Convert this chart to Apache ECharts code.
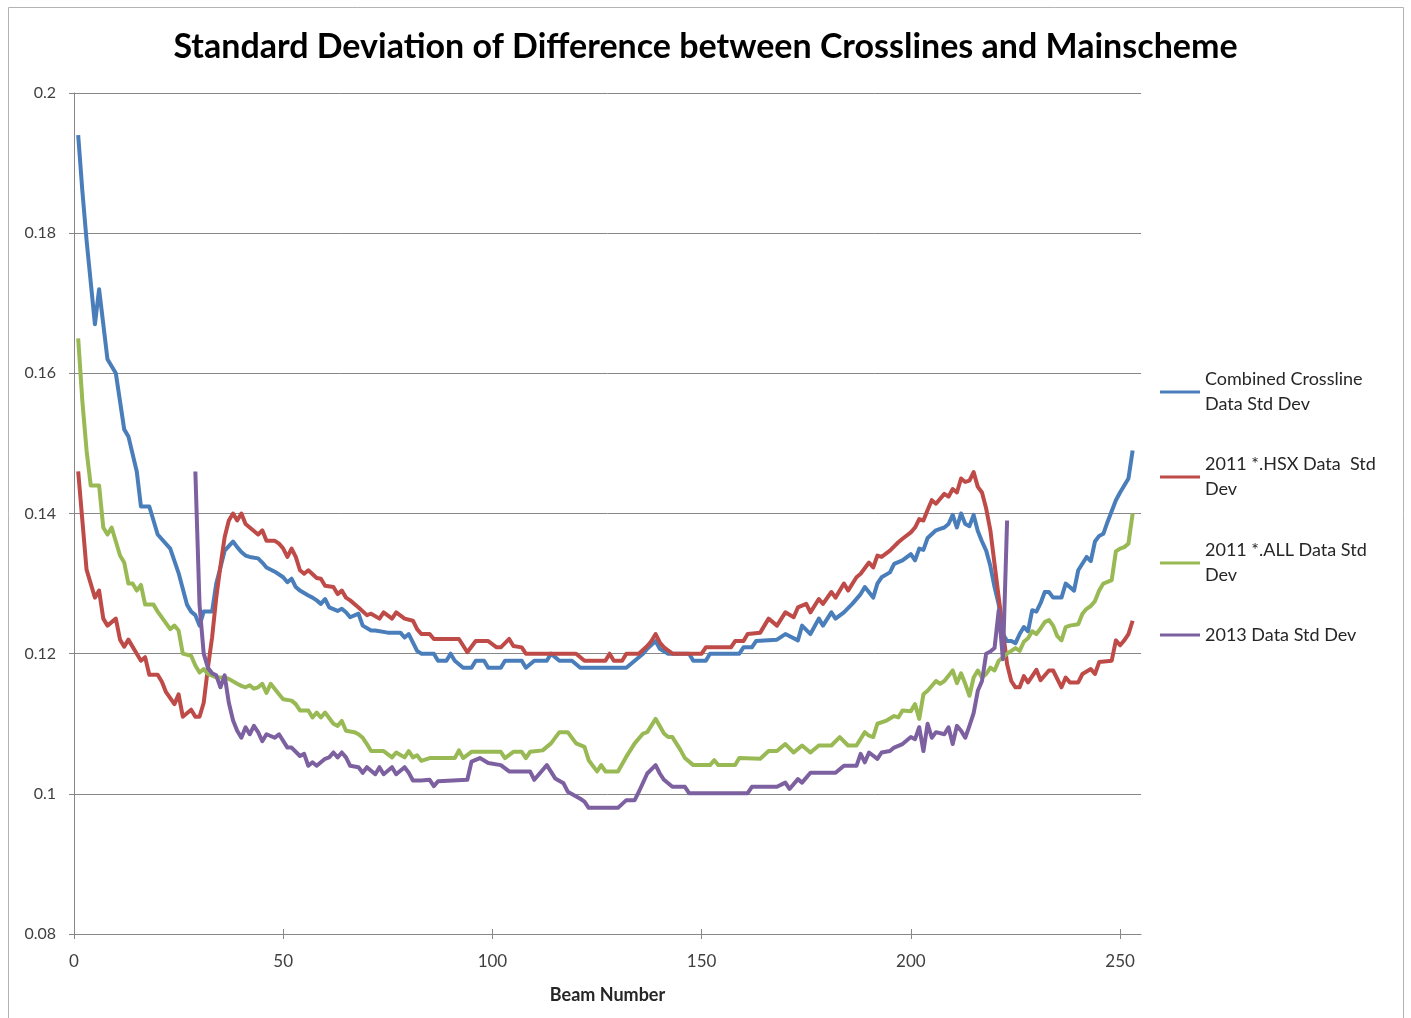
<!DOCTYPE html>
<html>
<head>
<meta charset="utf-8">
<title>Standard Deviation of Difference between Crosslines and Mainscheme</title>
<script src="https://cdn.jsdelivr.net/npm/echarts@6/dist/echarts.min.js"></script>
<style>
  html, body { margin: 0; padding: 0; background: #ffffff; }
  #chart { width: 1411px; height: 1018px; }
</style>
</head>
<body>
<div id="chart"></div>
<script>
// Standard deviation per beam, pairs of [beam number, std dev]
const combinedCrossline = [
  [1,0.194],[2,0.186],[3,0.179],[4,0.173],[5,0.167],[6,0.172],[8,0.162],[9,0.161],[10,0.160],[12,0.152],[13,0.151],[15,0.146],[16,0.141],[18,0.141],[20,0.137],[23,0.135],[25,0.1315],[27,0.127],[28,0.126],[29,0.1255],[30,0.124],[31,0.126],[33,0.126],[34,0.130],[35,0.1323],[36,0.1347],[38,0.136],[39,0.1352],[40,0.1345],[41,0.134],[42,0.1338],[44,0.1336],[45,0.133],[46,0.1323],[48,0.1317],[50,0.1309],[51,0.1302],[52,0.1307],[53,0.1295],[54,0.129],[56,0.1283],[57,0.128],[58,0.1276],[59,0.1271],[60,0.1278],[61,0.1266],[63,0.1261],[64,0.1264],[65,0.1259],[66,0.1252],[68,0.1257],[69,0.124],[71,0.1233],[72,0.1233],[75,0.123],[78,0.123],[79,0.1223],[80,0.1228],[82,0.1204],[83,0.120],[86,0.120],[87,0.119],[89,0.119],[90,0.120],[91,0.119],[93,0.118],[95,0.118],[96,0.119],[98,0.119],[99,0.118],[102,0.118],[103,0.119],[107,0.119],[108,0.118],[110,0.119],[113,0.119],[114,0.120],[116,0.119],[119,0.119],[121,0.118],[132,0.118],[134,0.119],[135,0.1195],[136,0.120],[137,0.1207],[139,0.1218],[140,0.1207],[142,0.120],[147,0.120],[148,0.119],[151,0.119],[152,0.120],[159,0.120],[160,0.1209],[162,0.1209],[163,0.1218],[168,0.122],[170,0.1228],[173,0.1219],[174,0.124],[176,0.1228],[178,0.125],[179,0.124],[181,0.1259],[182,0.125],[184,0.1259],[186,0.1271],[188,0.1285],[189,0.1295],[191,0.128],[192,0.130],[193,0.1309],[195,0.1316],[196,0.1328],[198,0.1333],[200,0.1342],[201,0.1333],[202,0.135],[203,0.1348],[204,0.1365],[206,0.1376],[207,0.1378],[208,0.138],[209,0.1385],[210,0.1398],[211,0.138],[212,0.140],[213,0.1385],[214,0.1382],[215,0.1398],[216,0.1375],[217,0.136],[218,0.1347],[219,0.1325],[220,0.1295],[221,0.127],[222,0.1228],[223,0.1218],[224,0.1218],[225,0.1215],[226,0.1228],[227,0.1238],[228,0.1232],[229,0.1262],[230,0.126],[231,0.1272],[232,0.1288],[233,0.1288],[234,0.128],[236,0.128],[237,0.130],[239,0.129],[240,0.1319],[242,0.1338],[243,0.1332],[244,0.136],[245,0.1368],[246,0.1371],[247,0.1388],[249,0.1419],[250,0.143],[251,0.144],[252,0.145],[253,0.149]
];

const hsx2011 = [
  [1,0.146],[2,0.139],[3,0.132],[4,0.130],[5,0.128],[6,0.129],[7,0.125],[8,0.124],[10,0.125],[11,0.122],[12,0.121],[13,0.122],[15,0.120],[16,0.119],[17,0.1195],[18,0.117],[20,0.117],[21,0.116],[22,0.1145],[24,0.1128],[25,0.1142],[26,0.111],[28,0.112],[29,0.111],[30,0.111],[31,0.113],[32,0.118],[33,0.1223],[34,0.128],[35,0.1325],[36,0.1366],[37,0.139],[38,0.140],[39,0.139],[40,0.140],[41,0.1385],[42,0.138],[43,0.1375],[44,0.137],[45,0.1376],[46,0.1361],[48,0.1361],[49,0.1357],[50,0.135],[51,0.1338],[52,0.135],[53,0.1338],[54,0.1319],[55,0.1314],[56,0.1319],[58,0.1308],[59,0.1307],[60,0.1297],[62,0.1295],[63,0.1285],[64,0.129],[65,0.128],[66,0.1276],[68,0.1266],[70,0.1255],[71,0.1257],[73,0.125],[74,0.1259],[76,0.125],[77,0.1259],[79,0.125],[81,0.1247],[82,0.1235],[83,0.1228],[85,0.1228],[86,0.1221],[92,0.1221],[94,0.1202],[96,0.1218],[99,0.1218],[101,0.1209],[102,0.1209],[104,0.1221],[105,0.1211],[107,0.1209],[108,0.120],[120,0.120],[122,0.119],[127,0.119],[128,0.120],[129,0.119],[131,0.119],[132,0.120],[135,0.120],[137,0.1211],[138,0.1218],[139,0.1228],[140,0.1216],[141,0.1209],[143,0.120],[150,0.120],[151,0.1209],[157,0.1209],[158,0.1218],[160,0.1218],[161,0.1228],[164,0.123],[166,0.125],[168,0.124],[170,0.1259],[172,0.1252],[173,0.1266],[175,0.1271],[176,0.1259],[178,0.1278],[179,0.1271],[181,0.1288],[182,0.128],[184,0.130],[185,0.129],[187,0.1309],[188,0.1314],[190,0.133],[191,0.1323],[192,0.134],[193,0.1338],[195,0.1347],[197,0.1359],[198,0.1364],[200,0.1373],[201,0.138],[202,0.1392],[203,0.139],[204,0.1405],[205,0.1419],[206,0.1414],[208,0.1428],[209,0.1424],[210,0.1435],[211,0.143],[212,0.145],[213,0.1445],[214,0.1447],[215,0.1459],[216,0.1438],[217,0.143],[218,0.1407],[219,0.1376],[220,0.1328],[221,0.128],[222,0.1233],[223,0.1185],[224,0.1161],[225,0.1152],[226,0.1152],[227,0.1168],[228,0.1159],[230,0.1177],[231,0.1162],[233,0.1176],[234,0.1176],[236,0.1152],[237,0.1166],[238,0.1159],[240,0.1159],[241,0.1171],[243,0.1178],[244,0.1171],[245,0.1188],[248,0.119],[249,0.1219],[250,0.1212],[251,0.1219],[252,0.1228],[253,0.1247]
];

const all2011 = [
  [1,0.165],[2,0.156],[3,0.149],[4,0.144],[6,0.144],[7,0.138],[8,0.137],[9,0.138],[11,0.134],[12,0.133],[13,0.130],[14,0.130],[15,0.129],[16,0.1298],[17,0.127],[19,0.127],[20,0.126],[23,0.1235],[24,0.124],[25,0.1233],[26,0.120],[28,0.1197],[29,0.1183],[30,0.1173],[31,0.1178],[32,0.1171],[34,0.1166],[36,0.1166],[37,0.1164],[39,0.1157],[40,0.1154],[41,0.1152],[42,0.1155],[43,0.115],[44,0.1152],[45,0.1157],[46,0.1144],[47,0.1157],[49,0.1142],[50,0.1135],[52,0.1133],[53,0.1128],[54,0.1119],[56,0.1119],[57,0.1109],[58,0.1116],[59,0.1109],[60,0.1116],[62,0.110],[63,0.1097],[64,0.1104],[65,0.109],[67,0.1088],[68,0.1085],[69,0.108],[70,0.1071],[71,0.1061],[74,0.1061],[76,0.1052],[77,0.1059],[79,0.1052],[80,0.1061],[81,0.1052],[82,0.1055],[83,0.1047],[85,0.1051],[91,0.1051],[92,0.1062],[93,0.1051],[95,0.106],[102,0.106],[103,0.1051],[105,0.106],[107,0.106],[108,0.1051],[109,0.106],[112,0.1062],[114,0.1072],[116,0.1088],[118,0.1088],[120,0.1072],[122,0.1067],[123,0.1048],[125,0.1032],[126,0.1041],[127,0.1032],[130,0.1032],[132,0.1053],[134,0.1072],[136,0.1086],[137,0.1088],[139,0.1107],[141,0.1086],[142,0.1081],[143,0.1081],[145,0.1062],[146,0.1051],[148,0.1041],[152,0.1041],[153,0.1048],[154,0.1041],[158,0.1041],[159,0.1051],[164,0.105],[166,0.1061],[168,0.1061],[170,0.1071],[172,0.1059],[174,0.1069],[176,0.1059],[178,0.1069],[181,0.1069],[183,0.1081],[185,0.1069],[187,0.1069],[189,0.1088],[190,0.1083],[191,0.1081],[192,0.110],[194,0.1104],[196,0.1111],[197,0.1109],[198,0.1119],[200,0.1118],[201,0.1128],[202,0.1107],[203,0.1142],[204,0.1147],[206,0.1161],[207,0.1157],[208,0.1161],[210,0.1176],[211,0.1158],[212,0.1172],[213,0.1157],[214,0.114],[215,0.1166],[216,0.1176],[217,0.1166],[218,0.1171],[219,0.118],[220,0.1176],[221,0.119],[222,0.1195],[223,0.120],[224,0.1204],[225,0.1208],[226,0.1204],[227,0.1217],[228,0.1222],[229,0.1232],[230,0.1228],[231,0.1236],[232,0.1245],[233,0.1248],[234,0.124],[235,0.1225],[236,0.1219],[237,0.1238],[238,0.124],[240,0.1242],[241,0.1257],[242,0.1264],[243,0.1268],[244,0.1275],[245,0.129],[246,0.13],[248,0.1305],[249,0.1346],[250,0.135],[251,0.1352],[252,0.1357],[253,0.140]
];

const data2013 = [
  [29,0.146],[30,0.127],[31,0.120],[32,0.118],[33,0.1172],[34,0.1169],[35,0.1152],[36,0.1169],[37,0.113],[38,0.1105],[39,0.109],[40,0.108],[41,0.1095],[42,0.1085],[43,0.1097],[44,0.1088],[45,0.1075],[46,0.1085],[48,0.108],[49,0.1085],[51,0.1066],[52,0.1066],[54,0.1054],[55,0.1057],[56,0.104],[57,0.1045],[58,0.104],[59,0.1045],[60,0.105],[61,0.1052],[62,0.1059],[63,0.1052],[64,0.1059],[65,0.1052],[66,0.104],[68,0.1038],[69,0.103],[70,0.1038],[71,0.1033],[72,0.1028],[73,0.1038],[74,0.1028],[76,0.1038],[77,0.1028],[79,0.1038],[80,0.103],[81,0.1019],[83,0.1019],[85,0.102],[86,0.1011],[87,0.1018],[94,0.102],[95,0.1046],[97,0.1051],[99,0.1044],[102,0.1041],[104,0.1032],[109,0.1032],[110,0.102],[112,0.1034],[113,0.1041],[115,0.1022],[117,0.1015],[118,0.1003],[121,0.0993],[122,0.0989],[123,0.098],[130,0.098],[132,0.0991],[134,0.0991],[135,0.1003],[137,0.1029],[139,0.1041],[140,0.1029],[141,0.102],[143,0.101],[146,0.101],[147,0.1001],[161,0.1001],[162,0.101],[168,0.101],[170,0.1016],[171,0.1007],[173,0.1021],[174,0.1016],[176,0.103],[182,0.103],[184,0.104],[187,0.104],[188,0.1057],[189,0.1045],[190,0.1059],[192,0.105],[193,0.1059],[195,0.1061],[196,0.1066],[198,0.1071],[200,0.1081],[201,0.1078],[202,0.1095],[203,0.1061],[204,0.110],[205,0.108],[206,0.1088],[208,0.1085],[209,0.1095],[210,0.1071],[211,0.1097],[212,0.109],[213,0.108],[214,0.1097],[215,0.1115],[216,0.1147],[217,0.1161],[218,0.120],[219,0.1203],[220,0.1208],[221,0.1262],[222,0.1192],[223,0.139]
];

const seriesNames = [
  'Combined Crossline\nData Std Dev',
  '2011 *.HSX Data  Std\nDev',
  '2011 *.ALL Data Std\nDev',
  '2013 Data Std Dev'
];
const seriesColors = ['#4A7EBB', '#BE4B48', '#98B954', '#7D60A0'];
const xTickValues = [0, 50, 100, 150, 200, 250];

const FONT = 'Lato, "Open Sans", sans-serif';
const AXIS_GRAY = '#878787';

const chart = echarts.init(document.getElementById('chart'), null, { renderer: 'canvas' });

// one legend block per series so every entry sits at its own height
const legendIconY = [378, 463, 549, 634];
const legends = seriesNames.map((name, i) => {
  const twoLines = name.indexOf('\n') >= 0;
  return {
    data: [name],
    orient: 'vertical',
    left: 1155,
    top: twoLines ? legendIconY[i] - 28.5 : legendIconY[i] - 16.5,
    icon: 'rect',
    itemWidth: 40,
    itemHeight: 3,
    selectedMode: false,
    textStyle: {
      fontFamily: FONT,
      fontSize: 18,
      color: '#262626',
      lineHeight: 25,
      padding: twoLines ? [25, 0, 0, 0] : 0
    }
  };
});

const lineData = [combinedCrossline, hsx2011, all2011, data2013];

chart.setOption({
  backgroundColor: '#ffffff',
  animation: false,
  textStyle: { fontFamily: FONT },
  title: {
    text: 'Standard Deviation of Difference between Crosslines and Mainscheme',
    left: 'center',
    top: 25,
    textStyle: { fontFamily: FONT, fontSize: 34, fontWeight: 'bold', color: '#000000' }
  },
  graphic: [{
    type: 'rect',
    silent: true,
    shape: { x: 8.5, y: 7.5, width: 1395, height: 1040 },
    style: { fill: null, stroke: '#b3b3b3', lineWidth: 1 },
    z: -10
  }],
  legend: legends,
  grid: { left: 74, right: 270, top: 93, bottom: 84, containLabel: false },
  xAxis: [{
    type: 'value',
    min: 0,
    max: 255,
    interval: 50,
    name: 'Beam Number',
    nameLocation: 'middle',
    nameGap: 52,
    nameTextStyle: { fontFamily: FONT, fontSize: 18, fontWeight: 'bold', color: '#262626' },
    axisLine: { show: true, lineStyle: { color: AXIS_GRAY, width: 1 } },
    axisTick: { show: true, length: 5, customValues: xTickValues, lineStyle: { color: AXIS_GRAY } },
    axisLabel: { customValues: xTickValues, margin: 19, fontSize: 17, color: '#404040', fontFamily: FONT },
    splitLine: { show: false }
  }, {
    // inner half of the crossing tick marks
    type: 'value',
    min: 0,
    max: 255,
    interval: 50,
    position: 'bottom',
    axisLine: { show: false },
    axisTick: { show: true, inside: true, length: 5, customValues: xTickValues, lineStyle: { color: AXIS_GRAY } },
    axisLabel: { show: false },
    splitLine: { show: false }
  }],
  yAxis: {
    type: 'value',
    min: 0.08,
    max: 0.2,
    interval: 0.02,
    axisLine: { show: true, lineStyle: { color: AXIS_GRAY, width: 1 } },
    axisTick: { show: true, length: 5, lineStyle: { color: AXIS_GRAY } },
    axisLabel: { margin: 18, fontSize: 16, color: '#404040', fontFamily: FONT },
    splitLine: { show: true, lineStyle: { color: AXIS_GRAY, width: 1 } }
  },
  series: lineData.map((d, i) => ({
    name: seriesNames[i],
    type: 'line',
    xAxisIndex: 0,
    data: d,
    showSymbol: false,
    symbol: 'none',
    smooth: false,
    color: seriesColors[i],
    lineStyle: { color: seriesColors[i], width: 4, join: 'round' },
    z: 2 + i
  }))
});
</script>
</body>
</html>
